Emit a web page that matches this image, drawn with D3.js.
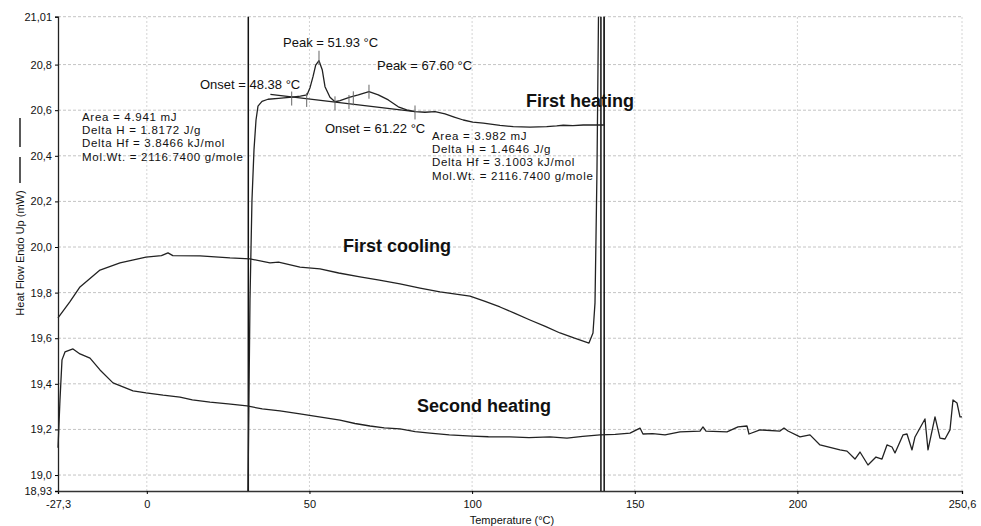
<!DOCTYPE html>
<html>

<head>
  <meta charset="UTF-8">
  <title>DSC</title>
  <style>
    body { margin: 0; background: #fff; }
    text { font-family: "Liberation Sans", Arial, sans-serif; fill: #111; }
  </style>
</head>

<body>
  <script src="https://cdn.jsdelivr.net/npm/d3@7"></script>
  <script>
    const width = 981,
      height = 526

    // tick values / labels (comma decimals as in the printout)
    const xTicks = [-27.3, 0, 50, 100, 150, 200, 250.6]
    const xTickLabels = ['-27,3', '0', '50', '100', '150', '200', '250,6']
    const yTicks = [18.93, 19.0, 19.2, 19.4, 19.6, 19.8, 20.0, 20.2, 20.4, 20.6, 20.8, 21.01]
    const yTickLabels = ['18,93', '19,0', '19,2', '19,4', '19,6', '19,8', '20,0', '20,2', '20,4', '20,6', '20,8', '21,01']

    // [temperature °C, heat flow mW]
    const firstHeating = [
      [31.1, 18.93], [31.72, 19.77], [32.33, 20.206], [32.95, 20.426], [33.57, 20.557], [34.18, 20.618],
      [35.41, 20.639], [37.25, 20.648], [40.5, 20.652], [44.63, 20.657], [47.2, 20.662], [49.24, 20.667],
      [50.2, 20.7], [51.09, 20.747], [51.92, 20.798], [52.93, 20.817], [53.95, 20.776], [54.78, 20.703],
      [56.31, 20.657], [57.85, 20.637], [59.39, 20.642], [62.46, 20.657], [65.02, 20.667], [68.3, 20.681],
      [71.16, 20.667], [74.24, 20.645], [77.31, 20.615], [79.89, 20.601], [82.45, 20.594], [85.52, 20.591],
      [88.59, 20.594], [91.67, 20.584], [94.5, 20.57], [97.29, 20.557], [100.2, 20.548], [103.44, 20.543],
      [108.57, 20.533], [112.66, 20.528], [117.8, 20.526], [122.93, 20.528], [126.0, 20.531], [128.03, 20.534],
      [131.0, 20.532], [134.18, 20.535], [137.5, 20.536], [140.6, 20.535], [140.6, 21.01]
    ]
    const firstCooling = [
      [-27.3, 19.689], [-23.61, 19.76], [-20.54, 19.825], [-14.39, 19.899], [-8.24, 19.93], [-0.25, 19.956],
      [4.5, 19.962], [6.51, 19.974], [8.0, 19.962], [16.35, 19.961], [25.57, 19.952], [31.72, 19.948],
      [37.87, 19.93], [40.5, 19.934], [47.09, 19.912], [53.24, 19.904], [59.0, 19.886], [65.54, 19.869],
      [71.5, 19.855], [77.83, 19.838], [84.0, 19.82], [90.13, 19.803], [99.35, 19.785], [104.0, 19.762],
      [108.57, 19.737], [113.0, 19.71], [117.8, 19.68], [122.5, 19.652], [127.02, 19.623], [131.5, 19.6],
      [135.93, 19.579], [137.16, 19.623], [137.78, 19.755], [138.09, 20.044], [138.39, 20.338], [138.85, 21.01]
    ]
    const secondHeating = [
      [-27.3, 19.12], [-26.69, 19.33], [-26.07, 19.505], [-25.15, 19.54], [-22.69, 19.553], [-20.54, 19.531],
      [-17.46, 19.513], [-14.39, 19.461], [-10.39, 19.404], [-4.24, 19.369], [-0.25, 19.36], [5.0, 19.35],
      [10.2, 19.342], [14.0, 19.33], [19.43, 19.32], [25.0, 19.312], [30.8, 19.303], [35.5, 19.29],
      [40.94, 19.281], [47.09, 19.268], [53.0, 19.255], [59.39, 19.241], [64.0, 19.226], [68.61, 19.215],
      [73.0, 19.207], [77.83, 19.202], [82.5, 19.19], [87.06, 19.184], [93.0, 19.176], [99.97, 19.171],
      [105.0, 19.168], [111.65, 19.167], [117.5, 19.164], [123.94, 19.167], [129.17, 19.162], [134.0, 19.17],
      [139.32, 19.176], [144.0, 19.178], [148.54, 19.184], [151.61, 19.206], [152.53, 19.18], [155.5, 19.182],
      [159.3, 19.176], [163.91, 19.189], [170.06, 19.193], [170.98, 19.211], [171.9, 19.193], [178.36, 19.189],
      [181.74, 19.211], [184.5, 19.215], [185.12, 19.18], [188.5, 19.198], [194.65, 19.193], [195.88, 19.206],
      [197.11, 19.193], [200.8, 19.167], [203.87, 19.176], [206.95, 19.132], [213.09, 19.11], [215.25, 19.105],
      [217.7, 19.07], [219.24, 19.101], [221.7, 19.044], [224.16, 19.079], [226.0, 19.07], [227.54, 19.132],
      [229.08, 19.123], [230.0, 19.097], [232.46, 19.176], [233.69, 19.18], [235.23, 19.11], [236.15, 19.167],
      [239.22, 19.246], [240.15, 19.11], [242.3, 19.255], [243.83, 19.162], [245.37, 19.158], [246.91, 19.198],
      [247.83, 19.329], [249.06, 19.316], [249.98, 19.255], [250.6, 19.255]
    ]

    // isothermal hold lines and the integration baseline
    const holdTemps = [31.2, 139.6, 140.6]
    const baseline = [[38.0, 20.669], [82.45, 20.594]]
    // small vertical markers placed on the curve by the software
    const curveMarks = [
      [44.54, 20.651], [49.15, 20.645], [52.93, 20.83], [57.85, 20.63],
      [62.15, 20.636], [63.48, 20.652], [68.3, 20.681], [82.45, 20.59]
    ]

    // annotation texts [temperature, heat flow, text]
    const notes = [
      [41.87, 20.899, 'Peak = 51.93 °C'],
      [16.35, 20.715, 'Onset = 48.38 °C'],
      [70.76, 20.798, 'Peak = 67.60 °C'],
      [54.78, 20.518, 'Onset = 61.22 °C']
    ]
    const leftBlock = ['Area = 4.941 mJ', 'Delta H = 1.8172 J/g', 'Delta Hf = 3.8466 kJ/mol', 'Mol.Wt. = 2116.7400 g/mole']
    const rightBlock = ['Area = 3.982 mJ', 'Delta H = 1.4646 J/g', 'Delta Hf = 3.1003 kJ/mol', 'Mol.Wt. = 2116.7400 g/mole']
    const blockAnchors = [[-19.92, 20.572], [87.67, 20.488]]
    const curveNames = [
      [116.57, 20.64, 'First heating'],
      [60.31, 20.005, 'First cooling'],
      [83.06, 19.303, 'Second heating']
    ]

    const svg = d3.select('body')
      .append('svg')
      .attr('width', width)
      .attr('height', height)

    const xScale = d3.scaleLinear()
      .domain([-27.3, 250.6])
      .range([58, 962])

    const yScale = d3.scaleLinear()
      .domain([18.93, 21.01])
      .range([491, 16.7])

    // grid
    svg.append('g')
      .selectAll('line')
      .data(yTicks.slice(1))
      .join('line')
      .attr('x1', xScale(-27.3))
      .attr('x2', xScale(250.6))
      .attr('y1', d => yScale(d))
      .attr('y2', d => yScale(d))
      .attr('stroke', '#c4c4c4')
      .attr('stroke-dasharray', '3,2')

    svg.append('g')
      .selectAll('line')
      .data(xTicks.slice(1))
      .join('line')
      .attr('x1', d => xScale(d))
      .attr('x2', d => xScale(d))
      .attr('y1', yScale(18.93))
      .attr('y2', yScale(21.01))
      .attr('stroke', '#d4d4d4')
      .attr('stroke-dasharray', '2,2')

    // axes
    const xAxis = d3.axisBottom(xScale)
      .tickValues(xTicks)
      .tickFormat((d, i) => xTickLabels[i])
      .tickSize(3)
      .tickPadding(6)

    const yAxis = d3.axisLeft(yScale)
      .tickValues(yTicks)
      .tickFormat((d, i) => yTickLabels[i])
      .tickSize(3)
      .tickPadding(3)

    const gx = svg.append('g')
      .attr('transform', `translate(0, ${yScale(18.93)})`)
      .call(xAxis)
    gx.select('.domain').attr('stroke', '#333').attr('stroke-width', 1.3)
    gx.selectAll('text').attr('font-size', 11).attr('font-family', '"Liberation Sans", Arial, sans-serif').attr('fill', '#111')

    const gy = svg.append('g')
      .attr('transform', `translate(${xScale(-27.3)}, 0)`)
      .call(yAxis)
    gy.select('.domain').attr('stroke', '#222').attr('stroke-width', 1.3)
    gy.selectAll('text').attr('font-size', 11).attr('font-family', '"Liberation Sans", Arial, sans-serif').attr('fill', '#111')

    svg.append('text')
      .attr('x', (xScale(-27.3) + xScale(250.6)) / 2 + 2)
      .attr('y', 520)
      .attr('dy', '0.35em')
      .attr('text-anchor', 'middle')
      .attr('font-size', 11)
      .text('Temperature (°C)')

    svg.append('text')
      .attr('transform', 'translate(20, 253) rotate(-90)')
      .attr('dy', '0.35em')
      .attr('text-anchor', 'middle')
      .attr('font-size', 11)
      .text('Heat Flow Endo Up (mW)')

    // line symbols beside the y title
    svg.append('g')
      .selectAll('line')
      .data([[118, 147], [157, 183]])
      .join('line')
      .attr('x1', 20).attr('x2', 20)
      .attr('y1', d => d[0]).attr('y2', d => d[1])
      .attr('stroke', '#222')
      .attr('stroke-width', 1.5)

    // hold lines
    svg.append('g')
      .selectAll('line')
      .data(holdTemps)
      .join('line')
      .attr('x1', d => xScale(d))
      .attr('x2', d => xScale(d))
      .attr('y1', yScale(18.93))
      .attr('y2', yScale(21.01))
      .attr('stroke', '#111')
      .attr('stroke-width', 1.5)

    const line = d3.line()
      .x(d => xScale(d[0]))
      .y(d => yScale(d[1]))

    svg.append('g')
      .selectAll('path')
      .data([firstHeating, firstCooling, secondHeating, baseline])
      .join('path')
      .attr('d', line)
      .attr('fill', 'none')
      .attr('stroke', '#222')
      .attr('stroke-width', 1.3)
      .attr('stroke-linejoin', 'round')

    svg.append('g')
      .selectAll('line')
      .data(curveMarks)
      .join('line')
      .attr('x1', d => xScale(d[0]))
      .attr('x2', d => xScale(d[0]))
      .attr('y1', d => yScale(d[1]) - 7)
      .attr('y2', d => yScale(d[1]) + 7)
      .attr('stroke', '#666')
      .attr('stroke-width', 1)

    // annotations
    svg.append('g')
      .selectAll('text')
      .data(notes)
      .join('text')
      .attr('x', d => xScale(d[0]))
      .attr('y', d => yScale(d[1]))
      .attr('dy', '0.35em')
      .attr('font-size', 13)
      .text(d => d[2])

    const blocks = [leftBlock, rightBlock]
    blocks.forEach((b, k) => {
      svg.append('g')
        .selectAll('text')
        .data(b)
        .join('text')
        .attr('x', xScale(blockAnchors[k][0]))
        .attr('y', (d, i) => yScale(blockAnchors[k][1]) + i * 13.3)
        .attr('dy', '0.35em')
        .attr('font-size', 11.5)
        .attr('letter-spacing', 0.7)
        .text(d => d)
    })

    svg.append('g')
      .selectAll('text')
      .data(curveNames)
      .join('text')
      .attr('x', d => xScale(d[0]))
      .attr('y', d => yScale(d[1]))
      .attr('dy', '0.35em')
      .attr('font-size', 18)
      .attr('font-weight', 'bold')
      .text(d => d[2])
  </script>
</body>

</html>
